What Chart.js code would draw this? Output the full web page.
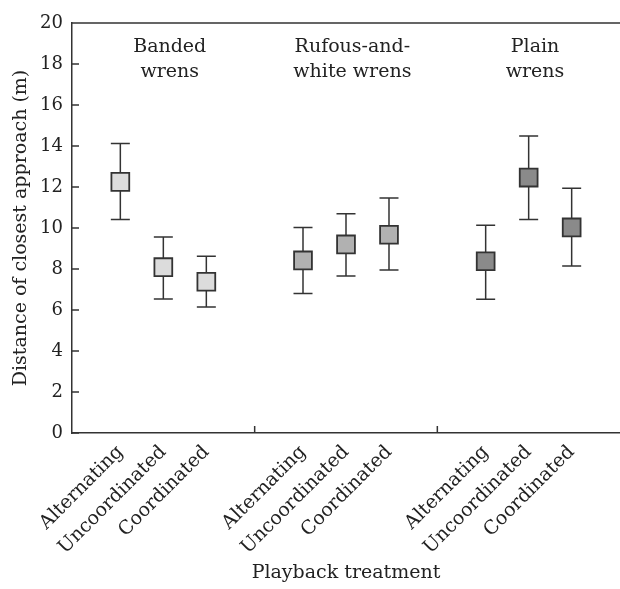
<!DOCTYPE html>
<html>
<head>
<meta charset="utf-8">
<script src="https://cdn.jsdelivr.net/npm/chart.js@4"></script>
<style>
html,body{margin:0;padding:0;background:#fff;}
#wrap{width:620px;height:589px;}
</style>
</head>
<body>
<div id="wrap"><canvas id="c" width="620" height="589"></canvas></div>
<script>
// ---- data ----
const species = ['Banded wrens', 'Rufous-and-white wrens', 'Plain wrens'];
const speciesLabelLines = [['Banded', 'wrens'], ['Rufous-and-', 'white wrens'], ['Plain', 'wrens']];
const treatments = ['Alternating', 'Uncoordinated', 'Coordinated'];
const bandedMean  = [12.25, 8.09, 7.38];
const bandedLow   = [10.41, 6.54, 6.15];
const bandedHigh  = [14.12, 9.56, 8.62];
const rufousMean  = [8.42, 9.20, 9.67];
const rufousLow   = [6.81, 7.66, 7.95];
const rufousHigh  = [10.03, 10.70, 11.46];
const plainMean   = [8.38, 12.46, 10.03];
const plainLow    = [6.52, 10.42, 8.15];
const plainHigh   = [10.13, 14.49, 11.94];
const yTicks = [0, 2, 4, 6, 8, 10, 12, 14, 16, 18, 20];

const FONT = 'DejaVu Serif';
const INK = '#222';
const LINE = '#333';
const fills = ['#dcdcdc', '#b1b1b1', '#8a8a8a'];
const SPREAD = 0.2354; // offset of treatments within a species group (axis units)

function xOf(g, t) { return g + 0.5 + (t - 1) * SPREAD; }

const means = [bandedMean, rufousMean, plainMean];
const lows = [bandedLow, rufousLow, plainLow];
const highs = [bandedHigh, rufousHigh, plainHigh];

const datasets = species.map((name, g) => ({
  label: name,
  data: treatments.map((t, i) => ({ x: xOf(g, i), y: means[g][i], lo: lows[g][i], hi: highs[g][i] })),
  pointStyle: 'rect',
  pointRadius: 12.6,
  pointHoverRadius: 12.6,
  backgroundColor: fills[g],
  borderColor: LINE,
  borderWidth: 1.8,
  showLine: false
}));

const tickPositions = [];
species.forEach((s, g) => treatments.forEach((t, i) => tickPositions.push(xOf(g, i))));

const decor = {
  id: 'decor',
  beforeDatasetsDraw(chart) {
    const { ctx, scales: { x, y } } = chart;
    ctx.save();
    ctx.strokeStyle = LINE;
    ctx.lineWidth = 1.5;
    chart.data.datasets.forEach(ds => {
      ds.data.forEach(p => {
        const px = x.getPixelForValue(p.x);
        const yl = y.getPixelForValue(p.lo);
        const yh = y.getPixelForValue(p.hi);
        ctx.beginPath();
        ctx.moveTo(px, yl); ctx.lineTo(px, yh);
        ctx.moveTo(px - 9.5, yl); ctx.lineTo(px + 9.5, yl);
        ctx.moveTo(px - 9.5, yh); ctx.lineTo(px + 9.5, yh);
        ctx.stroke();
      });
    });
    ctx.restore();
  },
  afterDraw(chart) {
    const { ctx, chartArea: a, scales: { x, y } } = chart;
    ctx.save();
    ctx.strokeStyle = LINE;
    ctx.lineWidth = 1.5;
    ctx.beginPath();
    // top frame
    ctx.moveTo(a.left - 0.75, a.top); ctx.lineTo(a.right, a.top);
    // inward y ticks
    yTicks.forEach(v => {
      const py = y.getPixelForValue(v);
      ctx.moveTo(a.left, py); ctx.lineTo(a.left + 7, py);
    });
    // group separators
    [1, 2].forEach(v => {
      const px = x.getPixelForValue(v);
      ctx.moveTo(px, a.bottom); ctx.lineTo(px, a.bottom - 7);
    });
    ctx.stroke();
    // species labels
    ctx.fillStyle = INK;
    ctx.font = '19px "' + FONT + '"';
    ctx.textAlign = 'center';
    ctx.textBaseline = 'alphabetic';
    speciesLabelLines.forEach((lines, g) => {
      const px = x.getPixelForValue(g + 0.5 + 0.035);
      lines.forEach((ln, k) => ctx.fillText(ln, px, a.top + 29 + k * 25));
    });
    ctx.restore();
  }
};

new Chart(document.getElementById('c'), {
  type: 'scatter',
  data: { datasets },
  options: {
    responsive: false,
    animation: false,
    events: [],
    layout: { autoPadding: false, padding: { top: 23, right: 0, left: 0, bottom: 0 } },
    plugins: { legend: { display: false }, tooltip: { enabled: false } },
    scales: {
      x: {
        type: 'linear',
        min: 0, max: 3,
        afterBuildTicks: s => { s.ticks = tickPositions.map(v => ({ value: v })); },
        afterFit: s => { s.height = 156; s.paddingRight = 0; s.paddingLeft = 0; },
        grid: { display: true, drawOnChartArea: false, drawTicks: false },
        border: { display: true, color: LINE, width: 1.5 },
        ticks: {
          autoSkip: false,
          minRotation: 45, maxRotation: 45,
          padding: 8,
          color: INK,
          font: { family: FONT, size: 19 },
          callback: (v, i) => treatments[i % 3]
        },
        title: {
          display: true, text: 'Playback treatment', color: INK,
          font: { family: FONT, size: 19 },
          padding: { top: 0, bottom: 5 }
        }
      },
      y: {
        min: 0, max: 20,
        afterBuildTicks: s => { s.ticks = yTicks.map(v => ({ value: v })); },
        afterFit: s => { s.width = 72; s.paddingTop = 0; s.paddingBottom = 0; },
        grid: { display: true, drawOnChartArea: false, drawTicks: false },
        border: { display: true, color: LINE, width: 1.5 },
        ticks: {
          padding: 9,
          color: INK,
          font: { family: FONT, size: 18 }
        },
        title: {
          display: true, text: 'Distance of closest approach (m)', color: INK,
          font: { family: FONT, size: 19 },
          padding: { top: 10, bottom: 0 }
        }
      }
    }
  },
  plugins: [decor]
});
</script>
</body>
</html>
